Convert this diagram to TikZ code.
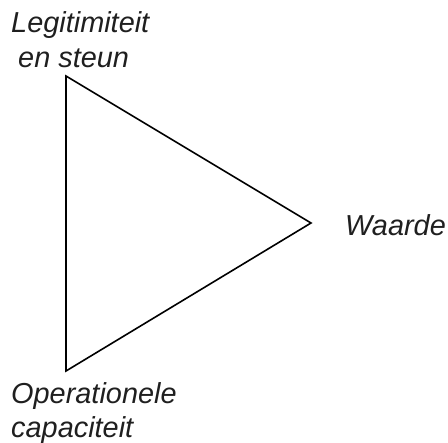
\documentclass[tikz,border=0pt]{standalone}
\usepackage{fontspec}
\setmainfont{Liberation Sans}
\begin{document}
\begin{tikzpicture}[x=1bp,y=-1bp,
  lbl/.style={anchor=base west,inner sep=0pt,font=\fontsize{29}{34}\selectfont\itshape,text=black!88}]
\useasboundingbox (0,0) rectangle (448,443);
% corners of the triangle
\coordinate (top) at (66,76);
\coordinate (right) at (311,223);
\coordinate (bottom) at (66,371);
\draw[line width=1.6bp,line join=miter] (top) -- (right) -- (bottom) -- cycle;
% corner labels
\node[lbl] (leg) at (11,33) {Legitimiteit};
\node[lbl] (steun) at (18,68) {en steun};
\node[lbl] (waarde) at (345,235) {Waarde};
\node[lbl] (oper) at (11,403) {Operationele};
\node[lbl] (cap) at (11,437) {capaciteit};
\end{tikzpicture}
\end{document}
